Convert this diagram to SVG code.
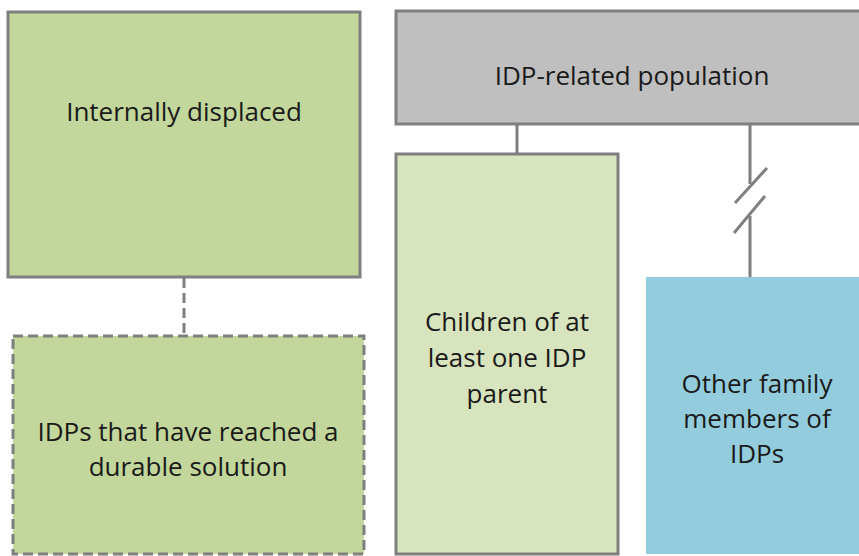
<svg xmlns="http://www.w3.org/2000/svg" width="859" height="556" viewBox="0 0 859 556">
<style>
.box{stroke:#7f7f7f;stroke-width:3}
.dash{stroke-dasharray:10 5}
.lbl{font-family:"Open Sans","Liberation Sans",sans-serif;font-size:26px;fill:#1a1a1a;text-anchor:middle}
.con{stroke:#7f7f7f;stroke-width:3;fill:none}
</style>
<rect width="859" height="556" fill="#ffffff"/>
<g id="connectors">
<line class="con dash" x1="184" y1="278" x2="184" y2="336"/>
<line class="con" x1="517" y1="124" x2="517" y2="154"/>
<line class="con" x1="750" y1="124" x2="750" y2="184"/>
<line class="con" x1="750" y1="216" x2="750" y2="277"/>
<line class="con" x1="735" y1="203" x2="767" y2="168"/>
<line class="con" x1="734" y1="233" x2="765" y2="196"/>
</g>
<g id="internally-displaced">
<rect class="box" x="8" y="12" width="352" height="265" fill="#c3d69b"/>
<text class="lbl" x="184" y="121">Internally displaced</text>
</g>
<g id="idp-related">
<rect class="box" x="396" y="11" width="470" height="113" fill="#bfbfbf"/>
<text class="lbl" x="632" y="85">IDP-related population</text>
</g>
<g id="children">
<rect class="box" x="396" y="154" width="222" height="400" fill="#d7e4bd"/>
<text class="lbl" x="507" y="331">Children of at</text>
<text class="lbl" x="507" y="367">least one IDP</text>
<text class="lbl" x="507" y="403">parent</text>
</g>
<g id="other-family">
<rect x="646" y="277" width="220" height="277" fill="#93cddd"/>
<text class="lbl" x="757" y="393">Other family</text>
<text class="lbl" x="757" y="428">members of</text>
<text class="lbl" x="757" y="463">IDPs</text>
</g>
<g id="durable-solution">
<rect class="box dash" x="13" y="336" width="351" height="218" fill="#c3d69b"/>
<text class="lbl" x="188" y="441">IDPs that have reached a</text>
<text class="lbl" x="188" y="476">durable solution</text>
</g>
</svg>
